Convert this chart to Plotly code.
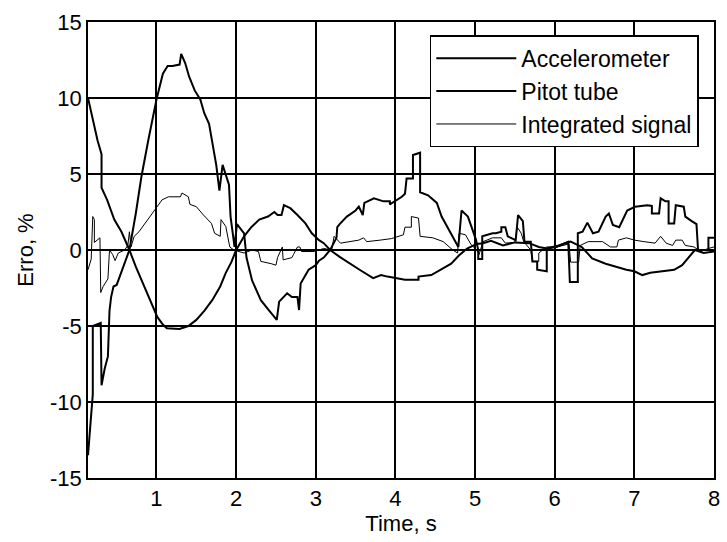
import plotly.graph_objects as go

# ---- data ----
acc_t = [0.14, 0.21, 0.26, 0.31, 0.31, 0.38, 0.47, 0.56, 0.66, 0.74, 0.83, 0.92, 1.01, 1.08, 1.13, 1.29,
         1.40, 1.50, 1.60, 1.70, 1.80, 1.87, 1.94, 2.00, 2.10, 2.19, 2.29, 2.40, 2.48, 2.52, 2.57, 2.60,
         2.68, 2.77, 2.87, 2.95, 3.04, 3.10, 3.18, 3.30, 3.40, 3.55, 3.72, 3.82, 3.90, 4.00, 4.12, 4.29,
         4.29, 4.45, 4.60, 4.70, 4.80, 4.90, 5.02, 5.10, 5.20, 5.35, 5.50, 5.68, 5.80, 5.90, 6.05, 6.20,
         6.34, 6.47, 6.64, 6.77, 6.90, 7.00, 7.10, 7.20, 7.35, 7.50, 7.60, 7.70, 7.76, 7.87, 8.00]
acc_y = [10.0, 8.4, 7.2, 6.3, 4.1, 3.3, 2.0, 1.2, 0.0, -1.1, -2.2, -3.3, -4.4, -4.9, -5.15, -5.2,
         -5.0, -4.6, -4.0, -3.3, -2.4, -1.5, -0.8, 0.0, 0.9, 1.5, 2.0, 2.2, 2.5, 2.3, 2.3, 2.95,
         2.75, 2.3, 1.75, 1.1, 0.65, 0.45, 0.0, -0.45, -0.8, -1.3, -1.85, -1.65, -1.75, -1.85, -1.95, -1.95,
         -1.75, -1.65, -1.2, -0.9, -0.35, 0.1, 0.4, 0.45, 0.6, 0.3, 0.5, 0.45, 0.2, 0.1, 0.3, 0.55,
         0.2, -0.55, -0.9, -1.1, -1.3, -1.4, -1.65, -1.5, -1.4, -1.3, -1.0, -0.35, 0.0, -0.2, -0.1]

pit_t = [0.14, 0.17, 0.20, 0.20, 0.30, 0.31, 0.35, 0.39, 0.41, 0.43, 0.46, 0.50, 0.58, 0.66, 0.74, 0.81,
         0.90, 1.00, 1.08, 1.14, 1.20, 1.29, 1.31, 1.36, 1.41, 1.48, 1.55, 1.60, 1.66, 1.70, 1.75, 1.79,
         1.83, 1.91, 1.93, 1.98, 2.01, 2.10, 2.13, 2.20, 2.31, 2.41, 2.51, 2.54, 2.64, 2.70, 2.77, 2.79,
         2.81, 2.91, 3.00, 3.04, 3.10, 3.18, 3.26, 3.27, 3.30, 3.39, 3.50, 3.54, 3.59, 3.61, 3.73, 3.85,
         3.93, 3.93, 4.08, 4.12, 4.14, 4.22, 4.22, 4.31, 4.31, 4.41, 4.52, 4.58, 4.64, 4.70, 4.79, 4.83,
         4.91, 5.01, 5.04, 5.04, 5.09, 5.09, 5.22, 5.26, 5.33, 5.33, 5.38, 5.41, 5.51, 5.54, 5.60, 5.62,
         5.70, 5.72, 5.78, 5.78, 5.90, 5.90, 6.02, 6.17, 6.19, 6.29, 6.29, 6.35, 6.41, 6.48, 6.55, 6.64,
         6.68, 6.73, 6.81, 6.91, 7.01, 7.16, 7.22, 7.22, 7.31, 7.33, 7.39, 7.43, 7.43, 7.50, 7.52, 7.62,
         7.64, 7.72, 7.78, 7.80, 7.93, 7.93, 8.00]
pit_y = [-13.5, -11.5, -9.5, -5.0, -4.8, -8.9, -7.8, -7.0, -4.0, -3.1, -2.4, -2.3, -1.1, 0.0, 2.4, 4.8,
         7.3, 9.9, 11.6, 12.1, 12.1, 12.2, 12.9, 12.3, 11.4, 10.5, 9.9, 9.0, 8.3, 7.0, 5.6, 3.9,
         5.6, 4.3, 2.2, 0.2, 1.7, 1.1, -0.5, -2.0, -3.3, -3.95, -4.6, -3.4, -2.85, -3.1, -3.1, -3.95,
         -2.2, -1.3, -1.0, -0.7, -0.5, 0.0, 0.8, 1.5, 1.7, 2.2, 2.6, 2.85, 2.3, 3.1, 3.4, 3.2,
         3.2, 3.0, 3.5, 3.7, 4.7, 4.7, 6.25, 6.4, 3.8, 3.6, 3.1, 2.2, 1.6, 1.1, 0.2, 2.6,
         2.2, 0.7, 0.0, -0.6, -0.6, 0.9, 1.1, 1.1, 1.2, 1.5, 1.5, 0.9, 0.65, 2.3, 1.9, 0.55,
         0.55, -0.75, -0.75, -1.3, -1.4, 0.1, 0.2, 0.55, -2.1, -2.1, 1.1, 1.2, 1.8, 1.1, 1.2, 2.2,
         2.4, 1.65, 1.5, 2.6, 2.85, 2.95, 2.9, 2.4, 2.4, 3.4, 3.2, 3.2, 1.75, 1.75, 2.95, 2.85,
         2.2, 1.9, 1.7, 0.0, 0.0, 0.8, 0.8]

int_t = [0.14, 0.18, 0.20, 0.22, 0.22, 0.29, 0.30, 0.33, 0.39, 0.41, 0.45, 0.48, 0.52, 0.60, 0.64, 0.66,
         0.68, 0.72, 0.78, 0.85, 0.93, 1.00, 1.07, 1.15, 1.30, 1.32, 1.40, 1.42, 1.50, 1.59, 1.69, 1.73,
         1.80, 1.81, 1.87, 1.92, 1.97, 2.10, 2.20, 2.28, 2.31, 2.44, 2.50, 2.52, 2.58, 2.59, 2.70, 2.72,
         2.77, 2.80, 2.82, 2.98, 3.10, 3.20, 3.23, 3.31, 3.41, 3.54, 3.60, 3.64, 3.81, 3.95, 4.10, 4.12,
         4.20, 4.20, 4.29, 4.31, 4.47, 4.60, 4.72, 4.78, 4.80, 4.88, 4.95, 5.02, 5.05, 5.10, 5.22, 5.33,
         5.38, 5.50, 5.53, 5.58, 5.61, 5.70, 5.72, 5.80, 5.80, 5.90, 6.03, 6.18, 6.20, 6.30, 6.32, 6.42,
         6.60, 6.70, 6.78, 6.80, 6.90, 7.00, 7.12, 7.26, 7.33, 7.40, 7.48, 7.52, 7.60, 7.64, 7.75, 7.83,
         7.93, 8.00]
int_y = [-1.3, -0.6, 2.2, 2.0, 0.5, 0.8, -2.8, -2.4, -1.9, 0.0, -0.3, -0.7, -0.2, 0.0, 0.3, 1.2,
         0.2, 0.9, 1.2, 1.7, 2.3, 2.8, 3.3, 3.5, 3.5, 3.75, 3.5, 3.0, 2.85, 2.3, 1.75, 1.1,
         0.9, 2.0, 1.55, 0.2, 0.0, -0.2, 0.0, -0.1, -0.75, -0.9, -1.0, -0.5, 0.2, -0.65, -0.5, -0.3,
         0.2, 0.2, -0.1, -0.1, 0.1, 0.0, 0.9, 0.45, 0.55, 0.65, 0.8, 0.55, 0.65, 0.75, 1.0, 1.5,
         1.5, 2.2, 2.1, 0.9, 0.8, 0.55, 0.0, -0.2, 1.1, 1.0, 0.35, 0.0, -0.3, 0.55, 0.8, 0.8,
         0.45, 0.5, 1.5, 1.1, 0.55, 0.0, -0.75, -0.75, -0.2, 0.2, 0.2, 0.4, -0.8, -0.8, 0.3, 0.55,
         0.55, 0.2, 0.2, 0.65, 0.8, 0.65, 0.55, 0.45, 0.9, 0.45, 0.3, 0.65, 0.65, 0.3, 0.2, -0.1,
         0.1, 0.2]

x_ticks = [1, 2, 3, 4, 5, 6, 7, 8]
x_tick_text = ["1", "2", "3", "4", "5", "6", "7", "8"]
y_ticks = [-15, -10, -5, 0, 5, 10, 15]
y_tick_text = ["-15", "-10", "-5", "0", "5", "10", "15"]

FONT = "Arial, Liberation Sans, sans-serif"
FS = 22

fig = go.Figure()
fig.add_trace(go.Scatter(x=acc_t, y=acc_y, mode="lines", name="Accelerometer",
                         line=dict(color="black", width=2)))
fig.add_trace(go.Scatter(x=pit_t, y=pit_y, mode="lines", name="Pitot tube",
                         line=dict(color="black", width=2)))
fig.add_trace(go.Scatter(x=int_t, y=int_y, mode="lines", name="Integrated signal",
                         line=dict(color="black", width=1)))

axis_common = dict(showline=True, mirror="ticks", linecolor="black", linewidth=1.5,
                   showgrid=True, gridcolor="black", gridwidth=1.5, zeroline=False,
                   ticks="inside", ticklen=5, tickcolor="black",
                   tickfont=dict(family=FONT, size=FS, color="black"))

fig.update_layout(
    width=727, height=542,
    margin=dict(l=88, r=7, t=22, b=64),
    paper_bgcolor="white", plot_bgcolor="white",
    font=dict(family=FONT, size=FS, color="black"),
    xaxis=dict(range=[0.14, 8], tickvals=x_ticks, ticktext=x_tick_text,
               title=dict(text="Time, s", standoff=2, font=dict(family=FONT, size=FS)),
               **axis_common),
    yaxis=dict(range=[-15, 15], tickvals=y_ticks, ticktext=y_tick_text,
               title=dict(text="Erro, %", standoff=10, font=dict(family=FONT, size=FS)),
               **axis_common),
    legend=dict(x=0.546, y=0.971, xanchor="left", yanchor="top",
                bgcolor="white", bordercolor="black", borderwidth=1.5,
                font=dict(family=FONT, size=23, color="black"), itemwidth=80),
    showlegend=True,
)

fig.write_html("out.html")
